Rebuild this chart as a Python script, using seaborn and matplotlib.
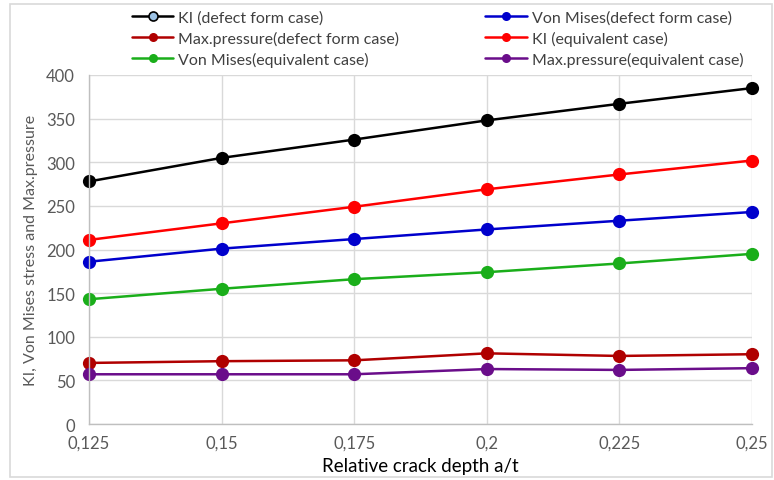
import matplotlib
matplotlib.use("Agg")
import matplotlib.pyplot as plt
from matplotlib.patches import Rectangle
import seaborn as sns
import pandas as pd

crack_depth = [0.125, 0.15, 0.175, 0.2, 0.225, 0.25]
x_tick_labels = ["0,125", "0,15", "0,175", "0,2", "0,225", "0,25"]

ki_defect = [278, 305, 326, 348, 367, 385]
vm_defect = [186, 201, 212, 223, 233, 243]
mp_defect = [70, 72, 73, 81, 78, 80]
ki_equiv = [211, 230, 249, 269, 286, 302]
vm_equiv = [143, 155, 166, 174, 184, 195]
mp_equiv = [57, 57, 57, 63, 62, 64]

series_names = [
    "KI (defect form case)",
    "Von Mises(defect form case)",
    "Max.pressure(defect form case)",
    "KI (equivalent case)",
    "Von Mises(equivalent case)",
    "Max.pressure(equivalent case)",
]
series_values = [ki_defect, vm_defect, mp_defect, ki_equiv, vm_equiv, mp_equiv]
series_colors = ["#000000", "#0000cc", "#b00000", "#ff0000", "#1aae1a", "#6a0d8a"]

rows = []
for name, vals in zip(series_names, series_values):
    for xv, yv in zip(crack_depth, vals):
        rows.append({"x": xv, "y": yv, "series": name})
df = pd.DataFrame(rows)

sns.set_theme(style="whitegrid")
plt.rcParams["font.family"] = ["Lato", "DejaVu Sans"]

fig = plt.figure(figsize=(7.74, 4.81), dpi=100)
ax = fig.add_axes([0.115, 0.1164, 0.8566, 0.7256])

palette = dict(zip(series_names, series_colors))
sns.lineplot(data=df, x="x", y="y", hue="series", hue_order=series_names,
             palette=palette, marker="o", markersize=9.5, linewidth=1.8,
             markeredgewidth=0, ax=ax, legend=True)

ax.set_xlim(0.125, 0.25)
ax.set_ylim(0, 400)
ax.set_xticks(crack_depth)
ax.set_xticklabels(x_tick_labels)
ax.set_yticks(range(0, 401, 50))
ax.grid(True, color="#d9d9d9", linewidth=1)
for s in ["top", "right"]:
    ax.spines[s].set_visible(False)
for s in ["left", "bottom"]:
    ax.spines[s].set_color("#bfbfbf")
    ax.spines[s].set_linewidth(1)
ax.tick_params(axis="both", colors="#595959", labelsize=12, length=0)
ax.tick_params(axis="x", pad=8)
ax.tick_params(axis="y", pad=10)
ax.set_xlabel("Relative crack depth a/t", fontsize=13.5, color="#000000", labelpad=4)
ax.set_ylabel("KI, Von Mises stress and Max.pressure", fontsize=11.5, color="#595959", labelpad=6)
for sp in ax.spines.values():
    sp.set_clip_on(False)
for line in ax.lines:
    line.set_clip_on(False)

handles, labels = ax.get_legend_handles_labels()
ax.get_legend().remove()
hmap = dict(zip(labels, handles))
order = [series_names[0], series_names[2], series_names[4],
         series_names[1], series_names[3], series_names[5]]
hs = [hmap[n] for n in order]
leg = fig.legend(hs, order, loc="upper left", bbox_to_anchor=(0.162, 0.99),
                 ncol=2, frameon=False, fontsize=11.5, handlelength=2.6,
                 columnspacing=5.4, labelspacing=0.38, handletextpad=0.3,
                 borderaxespad=0)
for h in leg.legend_handles:
    h.set_markersize(6.5)
    h.set_linewidth(1.8)
lh0 = leg.legend_handles[0]
lh0.set_markerfacecolor("#9dc3e6")
lh0.set_markeredgecolor("#000000")
lh0.set_markeredgewidth(1.2)
for t in leg.get_texts():
    t.set_color("#404040")

fig.add_artist(Rectangle((0.013, 0.006), 0.984, 0.984, transform=fig.transFigure,
                         fill=False, edgecolor="#d9d9d9", linewidth=1.2))

fig.savefig("out.png", dpi=100)
